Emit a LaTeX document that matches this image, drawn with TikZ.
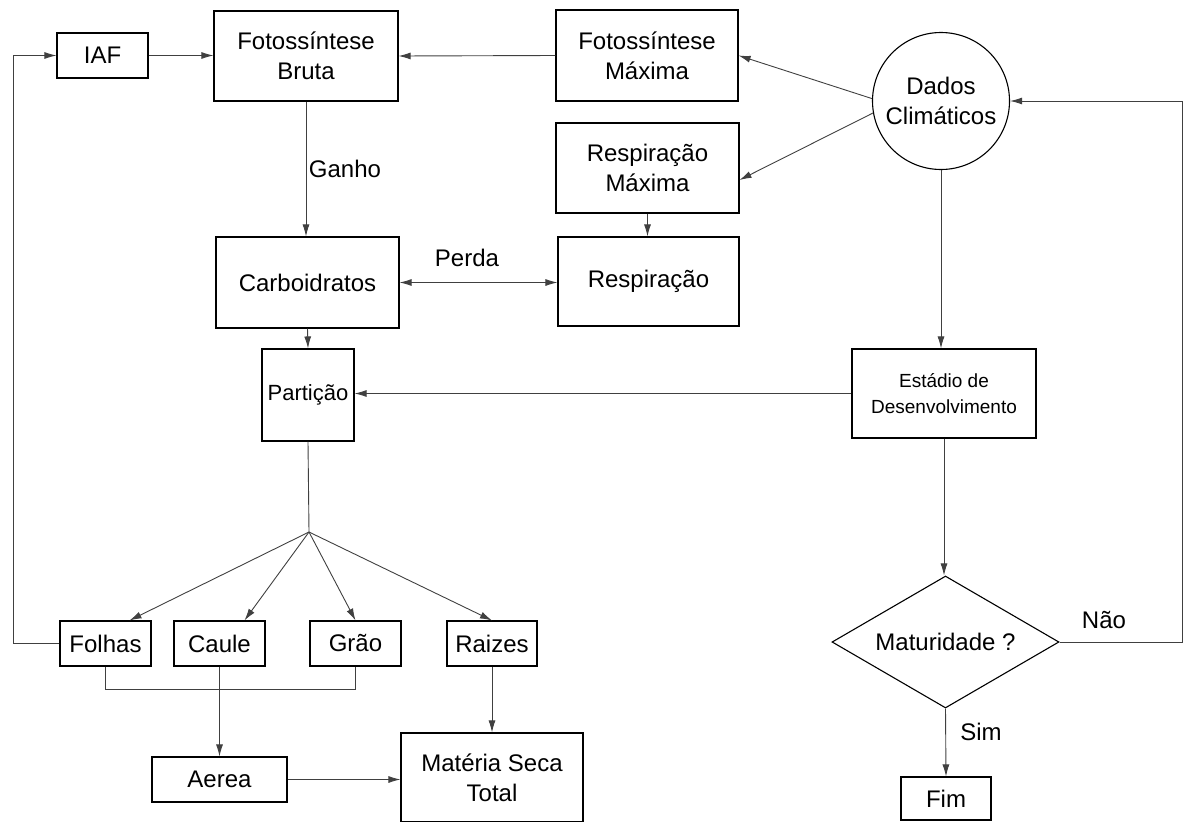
\documentclass[tikz,border=0pt]{standalone}
\usepackage{fontspec}
\setmainfont{Liberation Sans}
\usetikzlibrary{shapes.geometric,arrows.meta,calc}

\tikzset{
  box/.style={draw=black,line width=1.1pt,inner sep=0pt,align=center,font=\fontsize{24}{30}\selectfont},
  link/.style={draw=black!75,line width=0.9pt},
  >={Latex[length=12pt,width=7pt]}
}

\begin{document}
\begin{tikzpicture}[x=1pt,y=-1pt]
			\useasboundingbox (0,0) rectangle (1184,822);
			% caixas
			\node[box,minimum width=91pt,minimum height=45pt] (IAF) at (102.5,55.5) {IAF};
			\node[box,minimum width=184pt,minimum height=90pt] (FB) at (306,56) {Fotossíntese\\Bruta};
			\node[box,minimum width=182pt,minimum height=91pt] (FM) at (647,55.5) {Fotossíntese\\Máxima};
			\node[box,circle,minimum size=137pt] (DC) at (941,101) {Dados\\Climáticos};
			\node[box,minimum width=183pt,minimum height=90pt] (RM) at (647.5,168) {Respiração\\Máxima};
			\node[box,minimum width=181pt,minimum height=89pt] (RE) at (648.5,281.5) {Respiração};
			\node[box,minimum width=183pt,minimum height=91pt] (CA) at (307.5,282.5) {Carboidratos};
			\node[box,font=\fontsize{22}{27}\selectfont,minimum width=92pt,minimum height=92pt] (PA) at (308,395) {Partição};
			\node[box,font=\fontsize{19}{26}\selectfont,minimum width=184pt,minimum height=89pt] (ED) at (944,393.5) {Estádio de\\Desenvolvimento};
			\node[box,diamond,aspect=1.72,minimum width=227pt,minimum height=132pt] (MA) at (945.5,642) {Maturidade ?};
			\node[box,minimum width=90pt,minimum height=43pt] (FI) at (946,798.5) {Fim};
			\node[box,minimum width=91pt,minimum height=45pt] (FO) at (105.5,643.5) {Folhas};
			\node[box,minimum width=91pt,minimum height=45pt] (CL) at (219.5,643.5) {Caule};
			\node[box,minimum width=91pt,minimum height=45pt] (GR) at (355.5,643.5) {Grão};
			\node[box,minimum width=90pt,minimum height=45pt] (RA) at (492,643.5) {Raizes};
			\node[box,minimum width=135pt,minimum height=45pt] (AE) at (219.5,779.5) {Aerea};
			\node[box,minimum width=182pt,minimum height=89pt] (MS) at (492,777.5) {Matéria Seca\\Total};
			% rotulos
			\node[font=\fontsize{24}{30}\selectfont] (G) at (345,169) {Ganho};
			\node[font=\fontsize{24}{30}\selectfont] (P) at (467,258) {Perda};
			\node[font=\fontsize{24}{30}\selectfont] (N) at (1104,620) {Não};
			\node[font=\fontsize{24}{30}\selectfont] (S) at (981,732) {Sim};
			\coordinate (X) at (309,532);
			% ligacoes
			\draw[link,->] (FO.west) -- ++(-46,0) |- (IAF.west);
			\draw[link,->] (IAF.east) -- (IAF.east -| FB.west);
			\draw[link,->] (FM.west) -- (FB.east);
			\draw[link,->] (DC.178) -- (FM.east);
			\draw[link,->] (DC.190) -- ($(RM.east)+(0,12)$);
			\draw[link,->] (RM.south) -- (RM.south |- RE.north);
			\draw[link,->] (FB.south) -- (FB.south |- CA.north);
			\draw[link,<->] (CA.east) -- (CA.east -| RE.west);
			\draw[link,->] (CA.south) -- (PA.north);
			\draw[link,->] (DC.south) -- (DC.south |- ED.north);
			\draw[link,->] (ED.west) -- (ED.west -| PA.east);
			\draw[link,->] (ED.south) -- (ED.south |- MA.north);
			\draw[link,->] (MA.south) -- (FI.north);
			\draw[link,->] (MA.east) -- ++(123,0) |- (DC.east);
			\draw[link] (PA.south) -- (X);
			\draw[link,->] (X) -- ($(FO.north)+(24,0)$);
			\draw[link,->] (X) -- ($(CL.north)+(25,0)$);
			\draw[link,->] (X) -- (GR.north);
			\draw[link,->] (X) -- (RA.north);
			\draw[link] (FO.south) -- ++(0,23) -| (GR.south);
			\draw[link,->] (CL.south) -- (AE.north);
			\draw[link,->] (RA.south) -- (MS.north);
			\draw[link,->] (AE.east) -- (AE.east -| MS.west);
		\end{tikzpicture}
\end{document}
